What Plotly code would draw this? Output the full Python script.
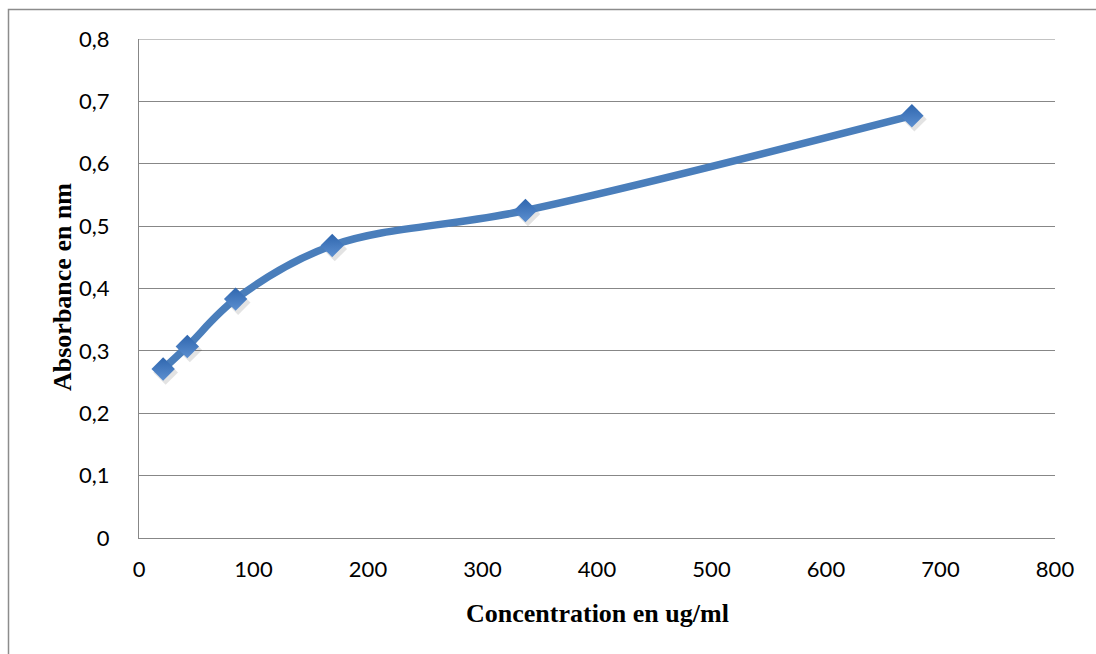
import plotly.graph_objects as go

# Calibration data: concentration (ug/ml) vs absorbance
concentration = [21.09, 42.19, 84.38, 168.75, 337.5, 675]
absorbance = [0.271, 0.307, 0.383, 0.469, 0.525, 0.677]

x_ticks = [0, 100, 200, 300, 400, 500, 600, 700, 800]
y_ticks = [0, 0.1, 0.2, 0.3, 0.4, 0.5, 0.6, 0.7, 0.8]
y_tick_text = ["0", "0,1", "0,2", "0,3", "0,4", "0,5", "0,6", "0,7", "0,8"]

W, H = 1096, 654
L, R, T, B = 139, 41, 39, 116

line_color = "#4A7EBB"
grid_color = "#878787"

fig = go.Figure()

# soft drop shadow under the markers
fig.add_trace(go.Scatter(
    x=[c + 2.2 for c in concentration],
    y=[a - 0.0056 for a in absorbance],
    mode="markers",
    marker=dict(symbol="diamond", size=19, color="rgba(0,0,0,0.11)", line=dict(width=0)),
    hoverinfo="skip",
    showlegend=False,
))

fig.add_trace(go.Scatter(
    x=concentration,
    y=absorbance,
    mode="lines",
    line=dict(color=line_color, width=7.5, shape="spline", smoothing=1.0),
    showlegend=False,
))

fig.add_trace(go.Scatter(
    x=concentration,
    y=absorbance,
    mode="markers",
    marker=dict(
        symbol="diamond",
        size=18,
        color="#2F66AE",
        gradient=dict(type="vertical", color="#5C8FD0"),
        line=dict(width=0),
    ),
    showlegend=False,
))

axis_font = dict(family="Lato, 'Open Sans', sans-serif", size=22, color="#000000")
title_font = dict(family="'Liberation Serif', 'Times New Roman', serif", size=26, color="#000000")

fig.update_layout(
    width=W,
    height=H,
    margin=dict(l=L, r=R, t=T, b=B),
    paper_bgcolor="white",
    plot_bgcolor="white",
    showlegend=False,
    xaxis=dict(
        range=[0, 800],
        tickvals=x_ticks,
        ticktext=[str(v) for v in x_ticks],
        showgrid=False,
        zeroline=False,
        showline=True,
        linecolor=grid_color,
        linewidth=1,
        ticks="",
        tickfont=axis_font,
        ticklabelstandoff=12,
    ),
    yaxis=dict(
        range=[0, 0.8],
        tickvals=y_ticks,
        ticktext=y_tick_text,
        showgrid=True,
        gridcolor=grid_color,
        gridwidth=1,
        zeroline=False,
        showline=True,
        linecolor=grid_color,
        linewidth=1,
        ticks="",
        tickfont=axis_font,
        ticklabelstandoff=24,
    ),
    annotations=[
        dict(
            text="<b>Concentration en ug/ml</b>",
            xref="paper", yref="paper",
            x=0.5, y=(H - B - 613) / (H - T - B),
            yanchor="middle", xanchor="center",
            showarrow=False, font=title_font,
        ),
        dict(
            text="<b>Absorbance en nm</b>",
            xref="paper", yref="paper",
            x=(62 - L) / (W - L - R), y=(H - B - 287) / (H - T - B),
            xanchor="center", yanchor="middle",
            textangle=-90, showarrow=False, font=title_font,
        ),
    ],
    shapes=[
        # top grid line at 0.8 and outer chart frame
        dict(type="line", xref="paper", yref="y", x0=0, x1=1, y0=0.8, y1=0.8,
             line=dict(color=grid_color, width=1)),
        dict(type="rect", xref="paper", yref="paper",
             x0=(8.5 - L) / (W - L - R), x1=(W + 20 - L) / (W - L - R),
             y0=(H - B - (H + 20)) / (H - T - B), y1=(H - B - 9.5) / (H - T - B),
             line=dict(color="#8C8C8C", width=1.5), layer="below"),
    ],
)

fig.write_html("out.html")
